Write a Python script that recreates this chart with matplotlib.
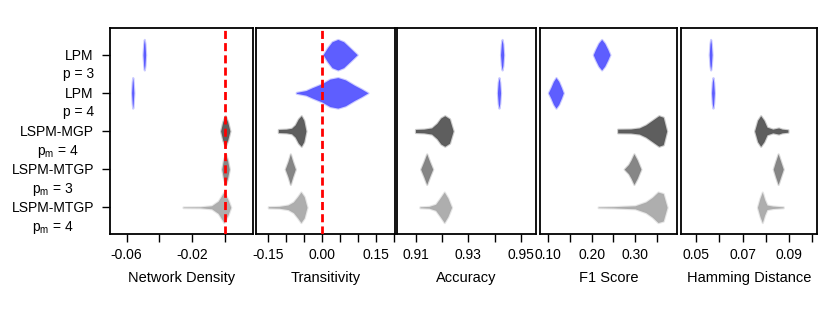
import matplotlib.pyplot as plt
import numpy as np
from matplotlib.transforms import ScaledTranslation
from matplotlib.colors import to_rgba

plt.rcParams['font.family'] = ['Liberation Sans', 'DejaVu Sans']
plt.rcParams['mathtext.fontset'] = 'custom'
plt.rcParams['mathtext.rm'] = 'Liberation Sans'
plt.rcParams['mathtext.it'] = 'Liberation Sans:italic'
plt.rcParams['mathtext.default'] = 'regular'
plt.rcParams['axes.unicode_minus'] = False

# metodos (de arriba hacia abajo)
metodos = ["LPM\np = 3", "LPM\np = 4", "LSPM-MGP\n$p_m$ = 4",
           "LSPM-MTGP\n$p_m$ = 3", "LSPM-MTGP\n$p_m$ = 4"]
colores = ["#5555FF", "#5555FF", "#555555", "#808080", "#AAAAAA"]
filas = [5, 4, 3, 2, 1]

metricas = ["Network Density", "Transitivity", "Accuracy", "F1 Score", "Hamming Distance"]

# perfiles de los violines: valores en x y ancho relativo
densidad_x = [[-0.0500, -0.0496, -0.0492, -0.0488, -0.0484],
              [-0.0570, -0.0566, -0.0563, -0.0560, -0.0556],
              [-0.0025, -0.0012, 0.0003, 0.0018, 0.0032],
              [-0.0018, -0.0008, 0.0005, 0.0017, 0.0028],
              [-0.0255, -0.015, -0.008, -0.004, -0.0005, 0.002, 0.0037]]
densidad_w = [[0, 0.7, 1, 0.7, 0],
              [0, 0.7, 1, 0.7, 0],
              [0, 0.6, 1, 0.6, 0],
              [0, 0.6, 1, 0.6, 0],
              [0.02, 0.03, 0.1, 0.4, 1, 0.5, 0]]

trans_x = [[0.003, 0.015, 0.028, 0.044, 0.060, 0.078, 0.098],
           [-0.072, -0.045, -0.028, 0.000, 0.022, 0.044, 0.065, 0.090, 0.110, 0.128],
           [-0.122, -0.100, -0.085, -0.075, -0.066, -0.058, -0.051, -0.045],
           [-0.103, -0.095, -0.0885, -0.082, -0.0746],
           [-0.150, -0.120, -0.095, -0.080, -0.068, -0.059, -0.050, -0.042]]
trans_w = [[0, 0.45, 0.85, 1, 0.85, 0.45, 0],
           [0.03, 0.15, 0.33, 0.6, 0.9, 1, 0.85, 0.5, 0.25, 0],
           [0.1, 0.12, 0.18, 0.4, 0.8, 1, 0.7, 0],
           [0, 0.5, 1, 0.5, 0],
           [0.04, 0.06, 0.15, 0.35, 0.7, 1, 0.7, 0]]

acc_x = [[0.9423, 0.9426, 0.9429, 0.9432, 0.9435],
         [0.9411, 0.9414, 0.9417, 0.9420, 0.9423],
         [0.9098, 0.913, 0.916, 0.918, 0.9195, 0.921, 0.9228, 0.9242],
         [0.9118, 0.9130, 0.9141, 0.9152, 0.9164],
         [0.9115, 0.915, 0.9175, 0.919, 0.9208, 0.9222, 0.9236]]
acc_w = [[0, 0.7, 1, 0.7, 0],
         [0, 0.7, 1, 0.7, 0],
         [0.1, 0.12, 0.2, 0.5, 0.85, 1, 0.8, 0],
         [0, 0.5, 1, 0.5, 0],
         [0.03, 0.06, 0.2, 0.55, 1, 0.6, 0]]

f1_x = [[0.2037, 0.209, 0.216, 0.223, 0.230, 0.237, 0.2422],
        [0.100, 0.106, 0.112, 0.1177, 0.124, 0.130, 0.1346],
        [0.260, 0.290, 0.310, 0.325, 0.340, 0.355, 0.365, 0.373],
        [0.275, 0.285, 0.291, 0.2975, 0.305, 0.3136],
        [0.215, 0.25, 0.30, 0.325, 0.340, 0.353, 0.365, 0.374]]
f1_w = [[0, 0.35, 0.75, 1, 0.75, 0.35, 0],
        [0, 0.35, 0.75, 1, 0.75, 0.35, 0],
        [0.12, 0.13, 0.2, 0.4, 0.7, 1, 0.9, 0],
        [0, 0.3, 0.6, 1, 0.6, 0],
        [0.02, 0.04, 0.1, 0.35, 0.65, 1, 0.9, 0]]

ham_x = [[0.0557, 0.0560, 0.0563, 0.0566, 0.0569],
         [0.0567, 0.0570, 0.0573, 0.0576, 0.0579],
         [0.0752, 0.0765, 0.0778, 0.0792, 0.0805, 0.0830, 0.0855, 0.0870, 0.0895],
         [0.0832, 0.0842, 0.0853, 0.0864, 0.0875],
         [0.0764, 0.0775, 0.0785, 0.0795, 0.0805, 0.0830, 0.0875]]
ham_w = [[0, 0.7, 1, 0.7, 0],
         [0, 0.7, 1, 0.7, 0],
         [0, 0.7, 1, 0.7, 0.25, 0.12, 0.2, 0.12, 0.08],
         [0, 0.5, 1, 0.5, 0],
         [0, 0.6, 1, 0.5, 0.15, 0.08, 0.03]]

perfiles_x = [densidad_x, trans_x, acc_x, f1_x, ham_x]
perfiles_w = [densidad_w, trans_w, acc_w, f1_w, ham_w]

limites = [(-0.0702, 0.0170), (-0.1844, 0.2022), (0.90256, 0.95565),
           (0.0797, 0.3968), (0.04335, 0.102)]
ticks = [[-0.06, -0.04, -0.02, 0.00],
         [-0.15, -0.10, -0.05, 0.00, 0.05, 0.10, 0.15, 0.20],
         [0.91, 0.92, 0.93, 0.94, 0.95],
         [0.10, 0.15, 0.20, 0.25, 0.30, 0.35],
         [0.05, 0.06, 0.07, 0.08, 0.09, 0.10]]
tick_labels = [["-0.06", "", "-0.02", ""],
               ["-0.15", "", "", "0.00", "", "", "0.15", ""],
               ["0.91", "", "0.93", "", "0.95"],
               ["0.10", "", "0.20", "", "0.30", ""],
               ["0.05", "", "0.07", "", "0.09", ""]]
linea_roja = [0.0, 0.0, None, None, None]

fig = plt.figure(figsize=(8.3, 3.12), dpi=100)
W, H = 830, 312
bordes = [(110, 252.5), (256, 394.5), (396.5, 535.5), (539.5, 677), (680.5, 817)]
arriba, abajo = 28, 234

for k in range(5):
    x0, x1 = bordes[k]
    ax = fig.add_axes([x0 / W, (H - abajo) / H, (x1 - x0) / W, (abajo - arriba) / H])
    stats = []
    for xs, ws in zip(perfiles_x[k], perfiles_w[k]):
        xs = np.array(xs)
        stats.append({'coords': xs, 'vals': np.array(ws, dtype=float),
                      'mean': xs.mean(), 'median': np.median(xs),
                      'min': xs.min(), 'max': xs.max()})
    partes = ax.violin(stats, positions=filas, orientation='horizontal', widths=0.8,
                       showmeans=False, showextrema=False, showmedians=False)
    for cuerpo, c in zip(partes['bodies'], colores):
        cuerpo.set_alpha(None)
        cuerpo.set_facecolor(to_rgba(c, 0.95))
        cuerpo.set_edgecolor(to_rgba(c, 0.3))
        cuerpo.set_linewidth(1.6)
    if linea_roja[k] is not None:
        ax.axvline(linea_roja[k], color='red', lw=2, dashes=(2.9, 1.5), zorder=5)
    ax.set_xlim(*limites[k])
    ax.set_ylim(0.3, 5.7)
    ax.set_xticks(ticks[k], labels=tick_labels[k])
    ax.tick_params(axis='x', direction='out', length=5.8, width=1, labelsize=10, pad=4)
    ax.set_xlabel(metricas[k], fontsize=10.5, labelpad=7)
    for s in ax.spines.values():
        s.set_linewidth(1.3)
    if k == 0:
        ax.set_yticks(filas, labels=metodos)
        ax.tick_params(axis='y', direction='out', length=5.8, width=1, labelsize=10, pad=5.5)
        for lab in ax.get_yticklabels():
            lab.set_multialignment('center')
            lab.set_linespacing(1.3)
            lab.set_transform(lab.get_transform() + ScaledTranslation(0, -0.07, fig.dpi_scale_trans))
    else:
        ax.set_yticks([])

fig.savefig("out.png", dpi=100)
